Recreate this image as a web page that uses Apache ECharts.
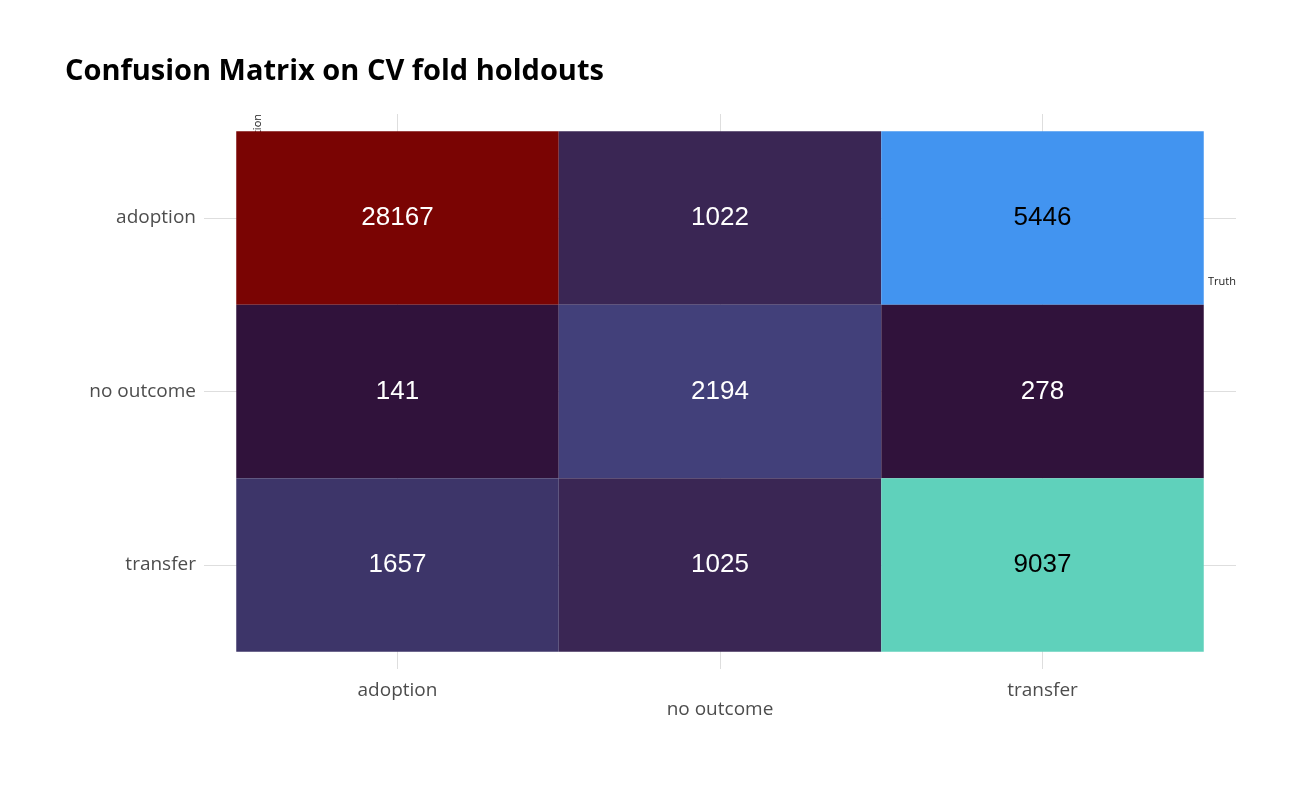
<!DOCTYPE html>
<html><head><meta charset="utf-8">
<script src="https://cdn.jsdelivr.net/npm/echarts@6/dist/echarts.min.js"></script>
<style>html,body{margin:0;background:#fff}#c{width:1296px;height:800px}</style>
</head><body><div id="c"></div>
<script>
const truth = ["adoption", "no outcome", "transfer"];
const prediction = ["adoption", "no outcome", "transfer"];
// counts[row=prediction][col=truth]
const counts = [
  [28167, 1022, 5446],
  [141, 2194, 278],
  [1657, 1025, 9037]
];
// fill per cell (turbo scale)
const fills = [
  ["#7a0403", "#3a2654", "#4294f0"],
  ["#30123b", "#42407a", "#30123b"],
  ["#3d3569", "#3a2654", "#5fd1bb"]
];
const darkText = { 5446: true, 9037: true };

const cells = [];
counts.forEach((row, r) => row.forEach((v, c) => cells.push([c, r, v])));

const label = cats => v => {
  const i = Math.round(v);
  return Math.abs(v - i) < 1e-6 && i >= 0 && i < cats.length ? cats[i] : "";
};
const font = "'Open Sans', sans-serif";
const grid = "#dedede", none = "rgba(0,0,0,0)";

echarts.init(document.getElementById("c")).setOption({
  animation: false,
  title: { text: "Confusion Matrix on CV fold holdouts", left: 60, top: 52,
    textStyle: { fontFamily: font, fontWeight: "bold", fontSize: 29, color: "#000" } },
  grid: { left: 204, top: 114, width: 1032, height: 555 },
  xAxis: {
    type: "value", min: -0.6, max: 2.6, interval: 0.2,
    axisLine: { show: false }, axisTick: { show: false },
    splitLine: { lineStyle: { color: [none, none, none, grid, none] } },
    axisLabel: { fontFamily: font, fontSize: 19, color: "#4d4d4d", margin: 12,
      formatter: v => { const s = label(truth)(v); return Math.round(v) === 1 && s ? "\n" + s : s; } },
    name: "Truth", nameLocation: "end", nameGap: 0,
    nameTextStyle: { fontFamily: font, fontSize: 11, color: "#222", align: "right", verticalAlign: "top", padding: [58, 0, 0, 0] }
  },
  yAxis: {
    type: "value", inverse: true, min: -0.6, max: 2.6, interval: 0.2,
    axisLine: { show: false }, axisTick: { show: false },
    splitLine: { lineStyle: { color: [none, none, none, grid, none] } },
    axisLabel: { fontFamily: font, fontSize: 19, color: "#4d4d4d", margin: 8, formatter: label(prediction) },
    name: "Prediction", nameLocation: "start", nameRotate: 90, nameGap: 0,
    nameTextStyle: { fontFamily: font, fontSize: 11, color: "#222", align: "right", verticalAlign: "bottom", padding: [0, 0, 134, 0] }
  },
  series: [{
    type: "custom",
    data: cells,
    renderItem: (params, api) => {
      const c = api.value(0), r = api.value(1), v = api.value(2);
      const p0 = api.coord([c - 0.5, r - 0.5]), p1 = api.coord([c + 0.5, r + 0.5]);
      return {
        type: "rect",
        shape: { x: p0[0], y: p0[1], width: p1[0] - p0[0], height: p1[1] - p0[1] },
        style: { fill: fills[r][c] },
        textContent: { style: { text: String(v), fontFamily: "'Liberation Sans', Arial", fontSize: 26,
          fill: darkText[v] ? "#000" : "#fff" } },
        textConfig: { position: "inside" }
      };
    }
  }]
});
</script></body></html>
